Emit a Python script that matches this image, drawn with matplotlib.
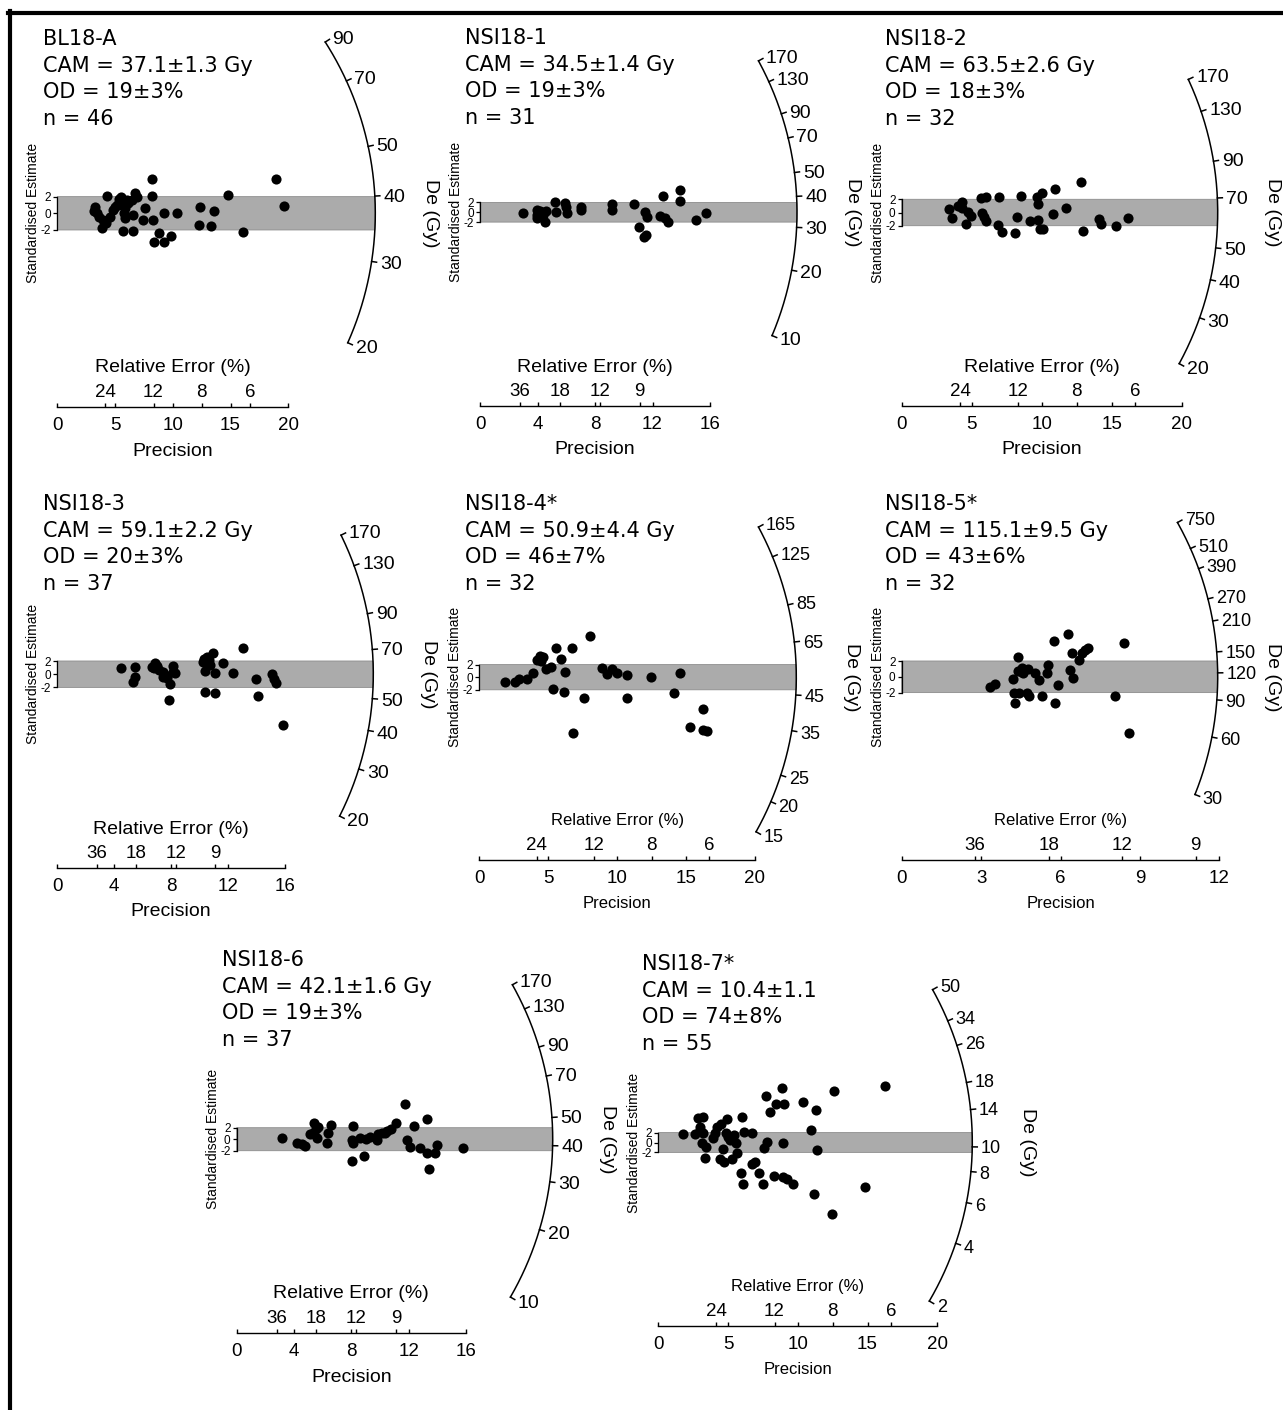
import numpy as np
import matplotlib
matplotlib.use("Agg")
import matplotlib.pyplot as plt
from matplotlib.lines import Line2D

plt.rcParams['font.family'] = ['Liberation Sans', 'DejaVu Sans']

# ---------------- sample summaries ----------------
names = ["BL18-A", "NSI18-1", "NSI18-2", "NSI18-3", "NSI18-4*", "NSI18-5*", "NSI18-6", "NSI18-7*"]
cam = [37.1, 34.5, 63.5, 59.1, 50.9, 115.1, 42.1, 10.4]
cam_err = [1.3, 1.4, 2.6, 2.2, 4.4, 9.5, 1.6, 1.1]
cam_unit = [" Gy", " Gy", " Gy", " Gy", " Gy", " Gy", " Gy", ""]
od = [19, 19, 18, 20, 46, 43, 19, 74]
od_err = [3, 3, 3, 3, 7, 6, 3, 8]
n_grains = [46, 31, 32, 37, 32, 32, 37, 55]

# radial De axis labels (Gy)
de_ticks = [
    [20, 30, 40, 50, 70, 90],
    [10, 20, 30, 40, 50, 70, 90, 130, 170],
    [20, 30, 40, 50, 70, 90, 130, 170],
    [20, 30, 40, 50, 70, 90, 130, 170],
    [15, 20, 25, 35, 45, 65, 85, 125, 165],
    [30, 60, 90, 120, 150, 210, 270, 390, 510, 750],
    [10, 20, 30, 40, 50, 70, 90, 130, 170],
    [2, 4, 6, 8, 10, 14, 18, 26, 34, 50],
]
prec_max = [20, 16, 20, 16, 20, 12, 16, 20]
prec_step = [5, 4, 5, 4, 5, 3, 4, 5]
re_ticks = [
    [24, 12, 8, 6], [36, 18, 12, 9], [24, 12, 8, 6], [36, 18, 12, 9],
    [24, 12, 8, 6], [36, 18, 12, 9], [36, 18, 12, 9], [24, 12, 8, 6],
]

# ---------------- aliquots: precision (x) and standardised estimate (y) ----------------
bl18a_prec = [4.27, 3.26, 3.41, 3.64, 3.84, 4.21, 4.56, 4.85, 5.14, 5.37, 5.48, 5.71, 5.86, 5.77, 5.86,
              5.71, 6.58, 6.15, 6.52, 6.72, 6.87, 7.59, 7.45, 8.25, 8.17, 8.17, 8.37, 8.83, 9.26, 9.81,
              9.26, 10.33, 12.35, 12.29, 13.28, 13.59, 14.81, 16.05, 18.93, 19.62, 6.0, 4.99, 6.44, 5.57,
              3.98, 3.17]
bl18a_z = [2.08, 0.72, 0.0, -0.48, -1.72, -1.12, -0.4, 0.4, 1.0, 1.68, 2.0, 1.4, 0.6, 0.0, -0.6,
           -2.12, -2.12, 1.2, -0.2, 2.4, 1.92, 0.6, -0.8, -0.8, 4.08, 2.08, -3.4, -2.4, -3.4, -2.72,
           0.08, 0.0, 0.8, -1.4, -1.48, 0.32, 2.2, -2.24, 4.08, 0.88, 1.6, 0.8, 1.6, 1.0, -0.8, 0.32]

nsi1_prec = [2.97, 3.94, 3.94, 4.18, 4.36, 4.52, 4.59, 5.22, 5.29, 5.92, 5.99, 6.08, 7.01, 7.01, 9.16,
             9.16, 10.72, 11.09, 11.48, 11.60, 11.42, 11.55, 12.53, 12.76, 12.88, 13.11, 13.92, 13.92,
             15.03, 15.73, 3.99]
nsi1_z = [-0.20, 0.48, -1.22, 0.27, -0.54, -1.90, 0.34, 2.18, 0.07, 1.97, 1.16, -0.20, 1.02, 0.48, 1.70,
          0.48, 1.70, -3.06, 0.14, -1.02, -5.10, -4.63, -0.75, 3.33, -1.22, -1.90, 4.56, 2.38, -1.56,
          -0.20, -0.54]

nsi2_prec = [3.38, 3.62, 4.05, 4.29, 4.33, 4.57, 4.76, 4.95, 5.67, 6.00, 5.71, 5.90, 6.00, 6.86, 6.98,
             7.19, 8.10, 8.21, 8.52, 9.17, 9.64, 9.71, 9.71, 9.88, 10.12, 10.05, 10.83, 10.95, 11.71,
             12.81, 12.98, 14.12, 14.24, 15.31, 16.19]
nsi2_z = [0.48, -0.88, 0.98, 1.59, 0.63, -1.74, 0.13, -0.53, 2.25, 2.30, -0.03, -0.63, -1.24, -1.89, 2.40,
          -2.90, -3.16, -0.73, 2.50, -1.24, 2.40, 1.29, -1.14, -2.55, -2.55, 3.01, -0.28, 3.56, 0.73,
          4.67, -2.75, -1.04, -1.74, -2.05, -0.88]

nsi3_prec = [4.45, 5.46, 5.46, 5.34, 6.86, 6.79, 7.17, 7.40, 7.56, 7.68, 7.92, 8.15, 8.27, 7.87, 10.30,
             10.49, 10.68, 10.96, 10.37, 11.08, 11.62, 12.37, 10.37, 11.08, 13.07, 13.96, 14.12, 15.06,
             15.22, 15.36, 15.88, 6.98, 7.45, 10.73, 10.21, 8.15, 6.63]
nsi3_z = [0.89, 1.05, -0.37, -1.13, 1.75, 0.89, 0.64, 0.38, -0.12, -0.63, -1.48, 1.24, 0.13, -3.91, 2.25,
          2.66, 2.15, 3.16, 0.54, 0.13, 1.65, 0.13, -2.65, -2.90, 3.92, -0.78, -3.30, -0.02, -0.78,
          -1.28, -7.70, 1.24, -0.37, 1.39, 1.90, 0.38, 1.14]

nsi4_prec = [1.86, 2.59, 2.90, 3.43, 3.92, 4.16, 4.40, 4.59, 4.45, 4.84, 5.18, 5.37, 5.56, 5.90, 6.14,
             6.22, 6.70, 7.59, 8.03, 6.77, 8.88, 9.24, 9.60, 9.96, 10.69, 10.69, 12.43, 14.15, 14.56,
             15.28, 16.20, 16.20, 16.49]
nsi4_z = [-0.81, -0.71, -0.34, -0.34, 0.61, 2.73, 3.37, 3.26, 2.62, 1.25, 1.67, -1.93, 4.58, 2.84, -2.30,
          0.88, 4.58, -3.35, 6.59, -8.80, 1.51, 0.46, 1.25, 0.72, 0.35, -3.25, 0.08, -2.46, 0.72,
          -7.96, -5.10, -8.38, -8.49]

nsi5_prec = [3.34, 3.53, 4.22, 4.38, 4.26, 4.28, 4.43, 4.53, 4.60, 4.76, 4.72, 4.81, 5.04, 5.19, 5.31,
             5.48, 5.52, 5.77, 5.79, 5.92, 6.27, 6.36, 6.45, 6.49, 6.70, 6.80, 6.93, 7.03, 8.06, 8.41,
             8.59, 4.53, 4.41]
nsi5_z = [-1.33, -0.91, -0.32, 2.55, -2.09, -3.36, -2.09, 1.07, 0.44, 0.95, -2.09, -2.43, 0.44, -0.41,
          -2.43, 0.52, 1.49, 4.57, -3.27, -1.04, 5.42, 0.86, 3.05, -0.19, 2.13, 2.97, 3.39, 3.60,
          -2.43, 4.24, -7.07, 0.65, 0.78]

nsi6_prec = [3.14, 4.23, 4.53, 4.77, 5.12, 5.40, 5.30, 5.53, 5.70, 5.58, 6.33, 6.40, 6.56, 8.09, 8.02,
             8.14, 8.02, 8.88, 8.60, 9.02, 9.30, 9.77, 9.88, 10.12, 10.35, 10.47, 10.77, 11.12, 11.74,
             11.86, 12.09, 12.37, 12.79, 13.30, 13.26, 13.44, 13.84, 13.95, 15.77]
nsi6_z = [0.15, -0.60, -0.83, -1.18, 0.90, 2.88, 1.02, 1.77, 2.18, 0.15, -0.72, 1.02, 2.47, 2.30, -0.14,
          -0.72, -3.73, -2.86, 0.15, 0.09, 0.44, -0.14, 0.90, 1.14, 1.02, 1.48, 1.72, 2.76, 6.12,
          -0.14, -1.41, 2.30, -1.59, 3.45, -2.46, -5.24, -2.34, -1.01, -1.59]

nsi7_prec = [1.79, 2.63, 2.87, 3.23, 2.99, 3.18, 3.11, 3.42, 3.35, 3.89, 4.06, 4.18, 4.47, 4.61, 4.42,
             4.71, 4.90, 4.85, 5.02, 5.14, 5.26, 5.42, 5.57, 5.66, 5.97, 6.14, 5.90, 6.05, 6.69, 6.69,
             6.93, 7.24, 7.53, 7.57, 7.81, 7.72, 8.00, 8.29, 8.43, 8.84, 9.01, 8.91, 8.91, 9.25, 9.63,
             10.39, 10.92, 11.16, 11.30, 11.40, 12.43, 12.59, 14.81, 16.25, 2.99]
nsi7_z = [1.65, 1.65, 4.88, 5.22, 2.53, 1.85, -0.03, -0.98, -3.20, 0.84, 1.99, 3.20, 3.74, -1.38, -3.40,
          -3.87, 4.68, 1.99, 1.18, 0.51, -3.40, 1.52, -0.17, -2.05, 5.22, 2.19, -6.09, -8.38, 1.99,
          -4.34, -3.87, -6.09, -8.38, -1.18, 0.17, 9.46, 6.23, -6.77, 7.78, 10.94, 7.78, -0.03, -7.04,
          -7.44, -8.38, 8.25, 2.53, -10.40, 6.57, -1.52, -14.44, 10.47, -8.92, 11.48, 3.20]

prec_data = [bl18a_prec, nsi1_prec, nsi2_prec, nsi3_prec, nsi4_prec, nsi5_prec, nsi6_prec, nsi7_prec]
z_data = [bl18a_z, nsi1_z, nsi2_z, nsi3_z, nsi4_z, nsi5_z, nsi6_z, nsi7_z]

# ---------------- layout (pixels on the 1283 x 1410 canvas) ----------------
W, H = 1283, 1410
# ox, oy: origin (precision 0, estimate 0); sx, sy: px per unit; R: radius of De arc; ay: precision axis
panels = [
    dict(ox=57.3, oy=213.3, sx=11.55, sy=8.33, R=318, ay=407, tx=43, ty=37, narrow=False),
    dict(ox=480.0, oy=212.3, sx=14.375, sy=4.9, R=317, ay=406, tx=465, ty=36, narrow=False),
    dict(ox=901.7, oy=212.5, sx=14.0, sy=6.6, R=316, ay=406, tx=885, ty=37, narrow=False),
    dict(ox=57.3, oy=674.2, sx=14.23, sy=6.6, R=316, ay=868, tx=43, ty=502, narrow=False),
    dict(ox=479.3, oy=677.2, sx=13.78, sy=6.3, R=317, ay=860, tx=465, ty=502, narrow=True),
    dict(ox=901.7, oy=676.8, sx=26.47, sy=7.9, R=316, ay=860, tx=885, ty=502, narrow=True),
    dict(ox=236.7, oy=1139.2, sx=14.33, sy=5.75, R=316, ay=1333, tx=222, ty=958, narrow=False),
    dict(ox=658.3, oy=1142.5, sx=13.95, sy=4.95, R=314, ay=1326, tx=642, ty=962, narrow=True),
]

fig = plt.figure(figsize=(W / 100, H / 100), dpi=100)


def fx(x):
    return x / W


def fy(y):
    return 1 - y / H


def draw_panel(i, p):
    ox, oy, sx, sy, R, ay = p['ox'], p['oy'], p['sx'], p['sy'], p['R'], p['ay']
    left_px, right_px = ox - 40, ox + R + 30
    top_px, bot_px = oy - 0.62 * R, oy + 0.62 * R
    ax = fig.add_axes([fx(left_px), fy(bot_px), (right_px - left_px) / W, (bot_px - top_px) / H])
    ax.set_xlim((left_px - ox) / sx, (right_px - ox) / sx)
    ax.set_ylim((oy - bot_px) / sy, (oy - top_px) / sy)
    ax.patch.set_visible(False)
    for s in ['top', 'right', 'bottom']:
        ax.spines[s].set_visible(False)
    ax.spines['left'].set_position(('data', 0))
    ax.spines['left'].set_bounds(-2, 2)
    ax.spines['left'].set_linewidth(0.9)
    ax.set_xticks([])
    ax.set_yticks([-2, 0, 2])
    ax.set_yticklabels(['-2', '0', '2'])
    ax.tick_params(axis='y', direction='out', length=3, width=0.9, pad=1.5, labelsize=8.5)

    # +/-2 band around the CAM line, closed by the radial axis
    zz = np.linspace(-2, 2, 60)
    xb = np.sqrt(R ** 2 - (zz * sy) ** 2) / sx
    ax.fill(np.r_[0, xb, 0], np.r_[-2, zz, 2], fc='#ababab', ec='#8c8c8c', lw=0.6, zorder=1)

    # radial De axis
    ticks = np.array(de_ticks[i], float)
    ang = np.arctan(np.log(ticks / cam[i]) * sy / sx)
    t = np.linspace(ang.min(), ang.max(), 200)
    ax.plot(R * np.cos(t) / sx, R * np.sin(t) / sy, color='black', lw=1.1, clip_on=False)
    arc_fs = 13 if p['narrow'] else 14
    for a, lab in zip(ang, de_ticks[i]):
        ax.plot([R * np.cos(a) / sx, (R + 5) * np.cos(a) / sx],
                [R * np.sin(a) / sy, (R + 5) * np.sin(a) / sy],
                color='black', lw=1.1, clip_on=False)
        ax.annotate(str(lab), xy=((R + 5) * np.cos(a) / sx, (R + 5) * np.sin(a) / sy),
                    xytext=(2.5 * np.cos(a), 2.5 * np.sin(a)), textcoords='offset points',
                    ha='left', va='center_baseline', fontsize=arc_fs)

    ax.plot(prec_data[i], z_data[i], 'o', color='black', ms=7.3, mew=0, zorder=3, clip_on=False)

    # precision axis with relative error scale on top
    xmax = prec_max[i]
    bx = fig.add_axes([fx(ox), fy(ay), xmax * sx / W, 1e-5])
    bx.set_xlim(0, xmax)
    bx.patch.set_visible(False)
    for s in ['left', 'right', 'top']:
        bx.spines[s].set_visible(False)
    bx.spines['bottom'].set_linewidth(1.0)
    bx.set_yticks([])
    bx.set_xticks(np.arange(0, xmax + 0.01, prec_step[i]))
    bx.tick_params(axis='x', direction='in', length=3, width=1.0, pad=7.5, labelsize=13.5)
    tx = bx.twiny()
    tx.set_xlim(0, xmax)
    for s in tx.spines.values():
        s.set_visible(False)
    tx.set_yticks([])
    tx.set_xticks([100.0 / r for r in re_ticks[i]])
    tx.set_xticklabels([str(r) for r in re_ticks[i]])
    tx.tick_params(axis='x', direction='out', length=3, width=1.0, pad=1.5, labelsize=13.5)

    lab_fs = 12 if p['narrow'] else 14
    cx = ox + xmax * sx / 2
    fig.text(fx(cx), fy(ay - 41), "Relative Error (%)", ha='center', va='center_baseline', fontsize=lab_fs)
    fig.text(fx(cx), fy(ay + 42), "Precision", ha='center', va='center_baseline', fontsize=lab_fs)
    fig.text(fx(ox - 24), fy(oy), "Standardised Estimate", rotation=90, ha='center', va='center',
             fontsize=10)
    fig.text(fx(ox + R + 55), fy(oy), "De (Gy)", rotation=270, ha='center', va='center', fontsize=14)

    lines = [names[i],
             "CAM = %.1f\u00b1%.1f%s" % (cam[i], cam_err[i], cam_unit[i]),
             "OD = %d\u00b1%d%%" % (od[i], od_err[i]),
             "n = %d" % n_grains[i]]
    for k, s in enumerate(lines):
        fig.text(fx(p['tx']), fy(p['ty'] + 26.7 * k), s, ha='left', va='center_baseline',
                 fontsize=15, family='DejaVu Sans')


for i, p in enumerate(panels):
    draw_panel(i, p)

# outer frame (top and left edges)
fig.add_artist(Line2D([fx(8), 1.0], [fy(13), fy(13)], lw=3, color='black'))
fig.add_artist(Line2D([fx(10), fx(10)], [fy(11), 0.0], lw=3, color='black'))

fig.savefig('out.png', dpi=100)
